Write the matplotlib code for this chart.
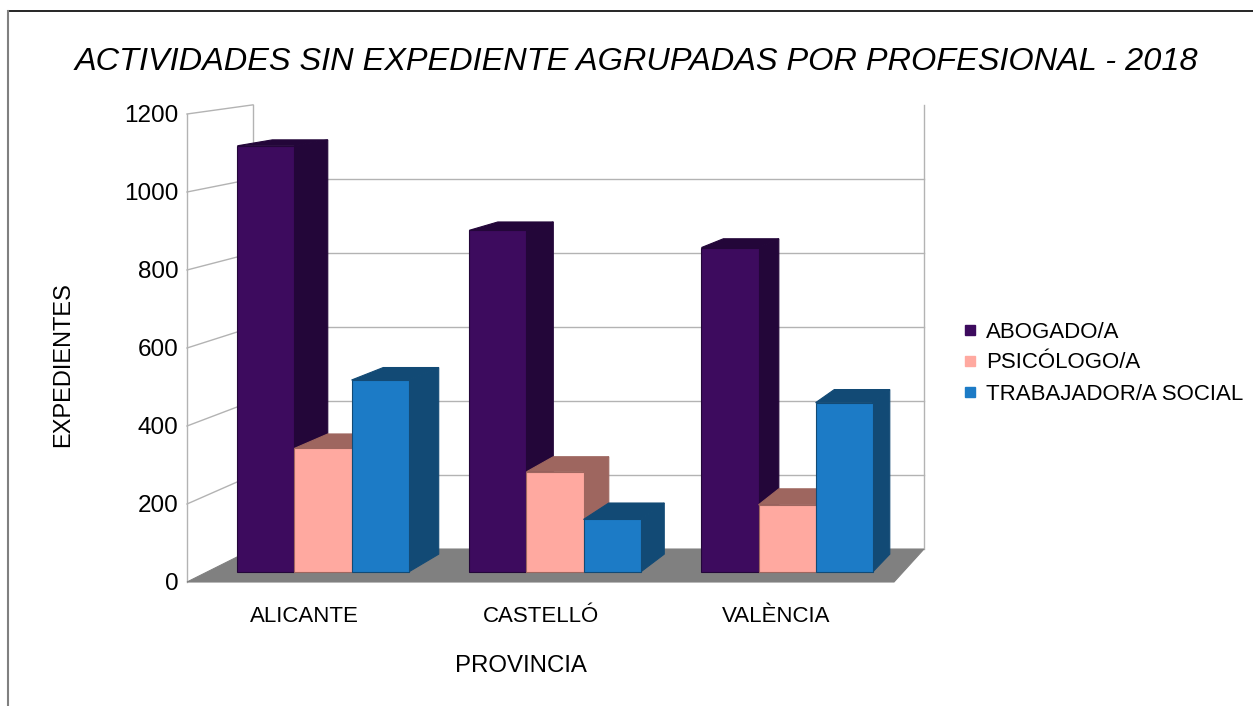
import matplotlib
matplotlib.use("Agg")
import matplotlib.pyplot as plt
from matplotlib.patches import Polygon
from matplotlib.lines import Line2D

plt.rcParams["font.family"] = ["Liberation Sans", "DejaVu Sans"]

PROVINCES = ["ALICANTE", "CASTELLÓ", "VALÈNCIA"]
SERIES = ["ABOGADO/A", "PSICÓLOGO/A", "TRABAJADOR/A SOCIAL"]
ABOGADO = [1110, 890, 845]
PSICOLOGO = [322, 261, 175]
TRABAJADOR = [500, 137, 441]
Y_TICKS = [0, 200, 400, 600, 800, 1000, 1200]

FRONT_COLORS = ["#3d0b5e", "#ffa9a0", "#1c7bc6"]
SIDE_COLORS = ["#230639", "#9e665f", "#124a75"]

# fake perspective: vanishing point in data units, depths as fractions
VP_X, VP_Y = 5.5, 1661.0
D_BAR_FRONT, D_BAR_BACK, D_WALL = 0.0154, 0.043, 0.0509
BAR_W = 0.246


def project(x, v, d):
    return (x + (VP_X - x) * d, v + (VP_Y - v) * d)


def face(ax, pts, color, edge, z):
    ax.add_patch(Polygon(pts, closed=True, facecolor=color, edgecolor=edge,
                         linewidth=0.8, zorder=z, clip_on=False))


fig = plt.figure(figsize=(12.53, 7.06), dpi=100)
ax = fig.add_axes([187 / 1253, 124 / 706, 707 / 1253, 468 / 706])
ax.set_xlim(0, len(PROVINCES))
ax.set_ylim(0, 1200)
for spine in ax.spines.values():
    spine.set_visible(False)

grid = dict(color="#b3b3b3", linewidth=1.0, zorder=1, clip_on=False)
n = len(PROVINCES)

# left wall and back wall
for v in Y_TICKS:
    bx, by = project(0, v, D_WALL)
    if v > 0:
        ax.plot([0, bx], [v, by], **grid)
    if 0 < v < 1200:
        ex, ey = project(n, v, D_WALL)
        ax.plot([bx, ex], [by, ey], **grid)
ax.plot([0, 0], [0, 1200], **grid)
p0, p1 = project(0, 0, D_WALL), project(0, 1200, D_WALL)
ax.plot([p0[0], p1[0]], [p0[1], p1[1]], **grid)
p0, p1 = project(n, 0, D_WALL), project(n, 1200, D_WALL)
ax.plot([p0[0], p1[0]], [p0[1], p1[1]], **grid)

# floor
face(ax, [project(0, 0, 0), project(n, 0, 0), project(n, 0, D_WALL),
          project(0, 0, D_WALL)], "#808080", "#808080", 2)

z = 3
for i in range(n):
    for j, values in enumerate([ABOGADO, PSICOLOGO, TRABAJADOR]):
        v = values[i]
        x0 = i + (1 - 3 * BAR_W) / 2 + j * BAR_W
        x1 = x0 + BAR_W
        df, db = D_BAR_FRONT, D_BAR_BACK
        face(ax, [project(x1, 0, df), project(x1, 0, db),
                  project(x1, v, db), project(x1, v, df)],
             SIDE_COLORS[j], SIDE_COLORS[j], z)
        face(ax, [project(x0, v, df), project(x1, v, df),
                  project(x1, v, db), project(x0, v, db)],
             SIDE_COLORS[j], SIDE_COLORS[j], z)
        face(ax, [project(x0, 0, df), project(x1, 0, df),
                  project(x1, v, df), project(x0, v, df)],
             FRONT_COLORS[j], SIDE_COLORS[j], z + 1)
        z += 2

ax.set_yticks(Y_TICKS)
ax.set_yticklabels([str(t) for t in Y_TICKS], fontsize=17.5)
ax.set_xticks([i + 0.5 for i in range(n)])
ax.set_xticklabels(PROVINCES, fontsize=16)
ax.tick_params(axis="y", length=0, pad=6)
ax.tick_params(axis="x", length=0, pad=17)

ax.set_ylabel("EXPEDIENTES", fontsize=17)
ax.yaxis.set_label_coords(-0.160, 0.464)
ax.set_xlabel("PROVINCIA", fontsize=17.3)
ax.xaxis.set_label_coords(0.4724, -0.156)

fig.text(636 / 1253, 1 - 62 / 706,
         "ACTIVIDADES SIN EXPEDIENTE AGRUPADAS POR PROFESIONAL - 2018",
         fontsize=23.4, style="italic", ha="center", va="center")

handles = [Line2D([], [], linestyle="none", marker="s", markersize=7.5,
                  markerfacecolor=c, markeredgecolor=c) for c in FRONT_COLORS]
fig.legend(handles, SERIES, loc="center left",
           bbox_to_anchor=(962 / 1253, 1 - 363 / 706), frameon=False,
           fontsize=16, handlelength=0.7, handletextpad=0.4,
           labelspacing=0.45, borderpad=0, borderaxespad=0)

# page frame
fig.add_artist(Line2D([7.5 / 1253, 1], [1 - 10.5 / 706] * 2,
                      color="black", linewidth=1.2))
fig.add_artist(Line2D([7.5 / 1253] * 2, [0, 1 - 10.5 / 706],
                      color="#808080", linewidth=1.5))

fig.savefig("out.png", dpi=100)
